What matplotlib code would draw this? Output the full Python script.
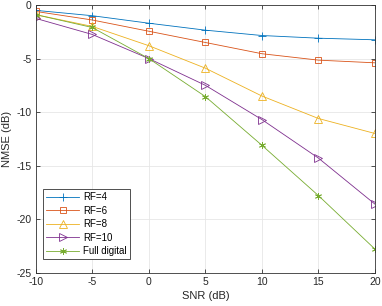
import matplotlib
matplotlib.use('Agg')
import matplotlib.pyplot as plt

plt.rcParams['font.family'] = ['Liberation Sans', 'DejaVu Sans']
plt.rcParams['axes.unicode_minus'] = False

snr = [-10, -5, 0, 5, 10, 15, 20]
rf4 = [-0.5, -1.0, -1.7, -2.35, -2.85, -3.1, -3.25]
rf6 = [-0.6, -1.4, -2.45, -3.5, -4.55, -5.15, -5.4]
rf8 = [-0.9, -2.0, -3.8, -5.9, -8.5, -10.6, -12.0]
rf10 = [-1.25, -2.75, -5.0, -7.5, -10.7, -14.3, -18.6]
full = [-0.9, -2.1, -5.0, -8.55, -13.1, -17.8, -22.8]

series = [
    ('RF=4', rf4, '+', '#0072BD', 6),
    ('RF=6', rf6, 's', '#D95319', 5),
    ('RF=8', rf8, '^', '#EDB120', 6),
    ('RF=10', rf10, '>', '#7E2F8E', 6),
    ('Full digital', full, (6, 2, 0), '#77AC30', 5),
]

fig = plt.figure(figsize=(3.82, 3.06), dpi=100)
ax = fig.add_axes([35.7 / 382, 33.3 / 306, 339.3 / 382, 267.7 / 306])

for name, y, m, c, ms in series:
    ax.plot(snr, y, marker=m, color=c, label=name, linewidth=0.6,
            markersize=ms, markerfacecolor='none', markeredgewidth=0.6)

ax.set_xlim(-10, 20)
ax.set_ylim(-25, 0)
ax.set_xticks(range(-10, 21, 5))
ax.set_yticks(range(-25, 1, 5))
ax.grid(True, color='#e6e6e6', linewidth=0.6)
ax.tick_params(direction='in', top=True, right=True, labelsize=7.5, length=3,
               width=0.6, color='#333333', labelcolor='#262626', pad=3)
for s in ax.spines.values():
    s.set_color('#333333')
    s.set_linewidth(0.6)
ax.set_xlabel('SNR (dB)', fontsize=8, labelpad=3, color='#262626')
ax.set_ylabel('NMSE (dB)', fontsize=8, labelpad=3, color='#262626')

leg = ax.legend(loc='lower left', bbox_to_anchor=(0.021, 0.05), fontsize=7,
                fancybox=False, edgecolor='#333333', framealpha=1,
                handlelength=3.4, borderpad=0.35, labelspacing=0.35,
                handletextpad=0.4, borderaxespad=0)
leg.get_frame().set_linewidth(0.6)

fig.savefig('out.png', dpi=100)
